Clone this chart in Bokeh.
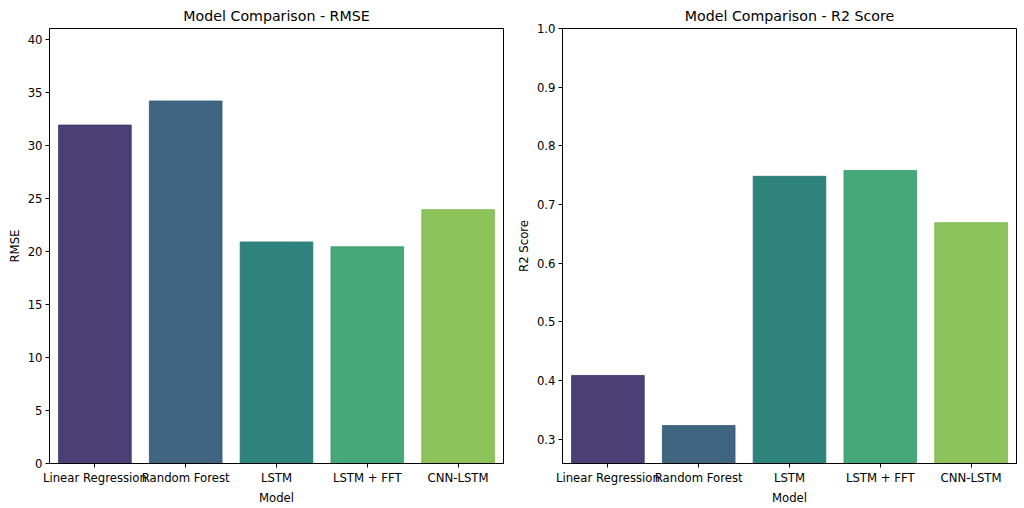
from bokeh.plotting import figure
from bokeh.layouts import row
from bokeh.models import FixedTicker, PrintfTickFormatter, Range1d, FactorRange, ColumnDataSource, Spacer
from bokeh.embed import file_html
from bokeh.resources import INLINE

models = ["Linear Regression", "Random Forest", "LSTM", "LSTM + FFT", "CNN-LSTM"]
rmse = [31.93, 34.2, 20.9, 20.45, 23.95]
r2 = [0.4085, 0.323, 0.748, 0.758, 0.669]
colors = ["#4b4076", "#3f6580", "#2e837d", "#46a879", "#8cc35a"]
edges = ["#3a2f6a", "#2f5673", "#25766f", "#37996a", "#7db84a"]
rmse_ticks = [0, 5, 10, 15, 20, 25, 30, 35, 40]
r2_ticks = [0.3, 0.4, 0.5, 0.6, 0.7, 0.8, 0.9, 1.0]

FONT = "DejaVu Sans"


def make(values, ylabel, title, yr, ticks, fmt=None):
    src = ColumnDataSource(dict(x=models, top=values, color=colors, edge=edges))
    p = figure(x_range=FactorRange(*models, range_padding=0), y_range=yr,
               frame_width=454, frame_height=435, output_backend="svg", toolbar_location=None,
               min_border_left=10, min_border_right=5, min_border_top=27,
               min_border_bottom=10)
    p.vbar(x="x", top="top", bottom=yr.start, width=0.8, fill_color="color",
           line_color="edge", line_width=0.8, source=src)
    p.title.text = title
    p.title.align = "center"
    p.title.text_font = FONT
    p.title.text_font_size = "14.2px"
    p.title.text_font_style = "normal"
    p.title.text_color = "black"
    p.title.standoff = 10
    p.xgrid.visible = False
    p.ygrid.visible = False
    p.outline_line_color = "black"
    p.outline_line_width = 1
    p.yaxis.ticker = FixedTicker(ticks=ticks)
    if fmt:
        p.yaxis.formatter = PrintfTickFormatter(format=fmt)
    for ax in (p.xaxis[0], p.yaxis[0]):
        ax.major_label_text_font = FONT
        ax.major_label_text_font_size = "11.7px"
        ax.major_label_text_color = "black"
        ax.axis_label_text_font = FONT
        ax.axis_label_text_font_size = "11.7px"
        ax.axis_label_text_font_style = "normal"
        ax.axis_label_text_color = "black"
        ax.axis_line_color = "black"
        ax.major_tick_line_color = "black"
        ax.major_tick_out = 4
        ax.major_tick_in = 0
        ax.minor_tick_line_color = None
        ax.major_label_standoff = 3
        ax.axis_label_standoff = 3
    p.xaxis.axis_label = "Model"
    p.yaxis.axis_label = ylabel
    return p


p1 = make(rmse, "RMSE", "Model Comparison - RMSE", Range1d(0, 41.04), rmse_ticks)
p2 = make(r2, "R2 Score", "Model Comparison - R2 Score", Range1d(0.2584, 1.0), r2_ticks, "%.1f")

layout = row(Spacer(width=4), p1, Spacer(width=5), p2)
open("out.html", "w").write(file_html(layout, INLINE))
